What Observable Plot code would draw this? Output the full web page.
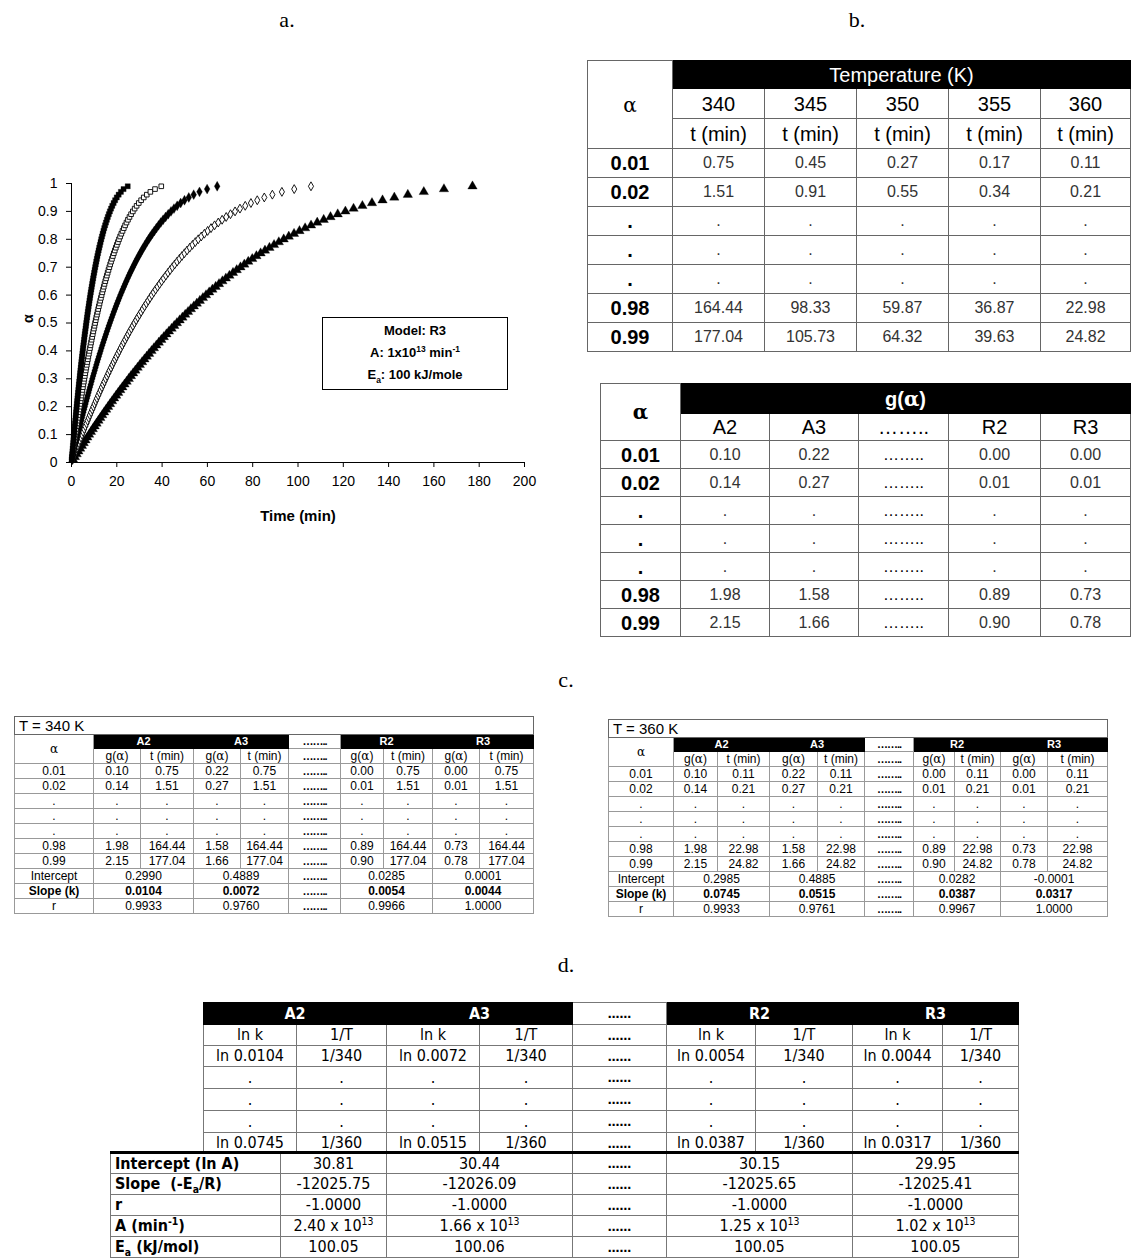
<!DOCTYPE html>
<html><head><meta charset="utf-8">
<script src="https://cdn.jsdelivr.net/npm/d3@7"></script>
<script src="https://cdn.jsdelivr.net/npm/@observablehq/plot@0.6"></script>
<style>
body{margin:0;background:#fff;}
#page{position:relative;width:1133px;height:1260px;overflow:hidden;font-family:"Liberation Sans",Arial,sans-serif;color:#000;}
.lbl{position:absolute;font-family:"Liberation Serif","Times New Roman",serif;font-size:22px;line-height:22px;transform:translateX(-50%);}
table{border-collapse:collapse;table-layout:fixed;position:absolute;}
td{padding:0;text-align:center;border:1px solid #666;overflow:hidden;white-space:nowrap;line-height:1;}
.blk{background:#000;color:#fff;border-color:#000;}
.sym{font-family:"DejaVu Serif","Liberation Serif",serif;}
#b1 td,#b2 td{font-size:20px;}
#b1 td.v,#b2 td.v{font-size:16px;color:#333;}
#b1 td.a,#b2 td.a{font-weight:bold;}
.ct td{font-size:12px;border-color:#999;}
.ct td.title{font-size:15px;text-align:left;padding-left:4px;border-color:#666;}
.ct td.blk{font-weight:bold;border-color:#000;font-size:11px;}
.ct td.dd{font-weight:bold;letter-spacing:-1px;font-size:11px;}
.ct{border:1px solid #555;}
.dt td{font-family:"Liberation Sans Narrow","DejaVu Sans Condensed","Arial Narrow",sans-serif;font-size:16px;border-color:#777;}
.dt td.blk{font-weight:bold;border-color:#000;}
.dt td.lab{text-align:left;padding-left:4px;font-weight:bold;}
.dt td.dd{font-weight:bold;font-size:13px;}
#box{position:absolute;left:322px;top:317px;width:186px;height:73px;border:1px solid #000;font-weight:bold;font-size:13px;text-align:center;line-height:22px;padding-top:2px;box-sizing:border-box;background:#fff;}
sup{font-size:65%;line-height:0;}
sub{font-size:65%;line-height:0;}
</style></head>
<body><div id="page">
<div class="lbl" style="left:287px;top:9px">a.</div>
<div class="lbl" style="left:857px;top:9px">b.</div>
<div class="lbl" style="left:566px;top:669px">c.</div>
<div class="lbl" style="left:566px;top:954px">d.</div>
<div id="chart" style="position:absolute;left:0;top:150px"></div>
<div id="box">Model: R3<br>A: 1x10<sup>13</sup> min<sup>-1</sup><br>E<sub>a</sub>: 100 kJ/mole</div>
<div id="tables"></div>
</div>
<script>
// ---------- chart a data ----------
const alpha = [0.01,0.02,0.03,0.04,0.05,0.06,0.07,0.08,0.09,0.10,
0.11,0.12,0.13,0.14,0.15,0.16,0.17,0.18,0.19,0.20,
0.21,0.22,0.23,0.24,0.25,0.26,0.27,0.28,0.29,0.30,
0.31,0.32,0.33,0.34,0.35,0.36,0.37,0.38,0.39,0.40,
0.41,0.42,0.43,0.44,0.45,0.46,0.47,0.48,0.49,0.50,
0.51,0.52,0.53,0.54,0.55,0.56,0.57,0.58,0.59,0.60,
0.61,0.62,0.63,0.64,0.65,0.66,0.67,0.68,0.69,0.70,
0.71,0.72,0.73,0.74,0.75,0.76,0.77,0.78,0.79,0.80,
0.81,0.82,0.83,0.84,0.85,0.86,0.87,0.88,0.89,0.90,
0.91,0.92,0.93,0.94,0.95,0.96,0.97,0.98,0.99];
const t340 = [0.75,1.51,2.28,3.05,3.83,4.61,5.39,6.19,6.98,7.79,
8.60,9.41,10.24,11.06,11.90,12.74,13.59,14.44,15.31,16.18,
17.05,17.94,18.83,19.73,20.63,21.55,22.47,23.41,24.35,25.30,
26.25,27.22,28.20,29.19,30.18,31.19,32.21,33.24,34.28,35.33,
36.39,37.47,38.56,39.66,40.77,41.90,43.04,44.20,45.37,46.55,
47.76,48.97,50.21,51.46,52.73,54.03,55.34,56.67,58.02,59.39,
60.79,62.21,63.66,65.13,66.63,68.16,69.72,71.31,72.94,74.60,
76.29,78.03,79.81,81.63,83.50,85.42,87.40,89.43,91.53,93.69,
95.93,98.25,100.65,103.15,105.76,108.49,111.35,114.35,117.54,120.92,
124.53,128.43,132.66,137.32,142.53,148.49,155.54,164.44,177.04];
const t345 = [0.45,0.91,1.36,1.82,2.28,2.75,3.22,3.69,4.17,4.65,
5.13,5.62,6.11,6.61,7.11,7.61,8.12,8.63,9.14,9.66,
10.18,10.71,11.24,11.78,12.32,12.87,13.42,13.98,14.54,15.11,
15.68,16.26,16.84,17.43,18.03,18.63,19.24,19.85,20.47,21.10,
21.73,22.38,23.03,23.68,24.35,25.02,25.70,26.39,27.09,27.80,
28.52,29.25,29.99,30.73,31.49,32.26,33.05,33.84,34.65,35.47,
36.30,37.15,38.02,38.90,39.79,40.71,41.64,42.59,43.56,44.55,
45.56,46.60,47.66,48.75,49.87,51.02,52.20,53.41,54.66,55.95,
57.29,58.67,60.11,61.60,63.16,64.79,66.50,68.29,70.19,72.21,
74.37,76.70,79.22,82.01,85.12,88.68,92.89,98.33,105.73];
const t350 = [0.27,0.55,0.83,1.11,1.39,1.67,1.96,2.25,2.54,2.83,
3.12,3.42,3.72,4.02,4.32,4.63,4.94,5.25,5.56,5.88,
6.20,6.52,6.84,7.17,7.50,7.83,8.16,8.50,8.85,9.19,
9.54,9.89,10.25,10.60,10.97,11.33,11.70,12.08,12.45,12.84,
13.22,13.61,14.01,14.41,14.81,15.22,15.64,16.06,16.48,16.91,
17.35,17.79,18.24,18.70,19.16,19.63,20.10,20.59,21.08,21.58,
22.09,22.60,23.13,23.66,24.21,24.76,25.33,25.91,26.50,27.10,
27.72,28.35,29.00,29.66,30.34,31.03,31.75,32.49,33.25,34.04,
34.85,35.69,36.57,37.48,38.42,39.41,40.45,41.55,42.70,43.93,
45.24,46.66,48.20,49.89,51.78,53.95,56.51,59.87,64.32];
const t355 = [0.17,0.34,0.51,0.68,0.86,1.03,1.21,1.38,1.56,1.74,
1.92,2.11,2.29,2.48,2.66,2.85,3.04,3.23,3.43,3.62,
3.82,4.01,4.21,4.42,4.62,4.82,5.03,5.24,5.45,5.66,
5.88,6.09,6.31,6.53,6.76,6.98,7.21,7.44,7.67,7.91,
8.15,8.39,8.63,8.88,9.13,9.38,9.63,9.89,10.16,10.42,
10.69,10.96,11.24,11.52,11.80,12.09,12.39,12.68,12.99,13.29,
13.61,13.93,14.25,14.58,14.92,15.26,15.61,15.96,16.33,16.70,
17.08,17.47,17.87,18.27,18.69,19.12,19.56,20.02,20.49,20.97,
21.47,21.99,22.53,23.09,23.67,24.28,24.92,25.60,26.31,27.07,
27.88,28.75,29.70,30.74,31.90,33.24,34.82,36.87,39.63];
const t360 = [0.11,0.21,0.32,0.43,0.54,0.65,0.76,0.87,0.98,1.09,
1.21,1.32,1.43,1.55,1.67,1.79,1.91,2.02,2.15,2.27,
2.39,2.51,2.64,2.77,2.89,3.02,3.15,3.28,3.41,3.55,
3.68,3.82,3.95,4.09,4.23,4.37,4.52,4.66,4.81,4.95,
5.10,5.25,5.41,5.56,5.72,5.87,6.03,6.20,6.36,6.53,
6.69,6.87,7.04,7.21,7.39,7.57,7.76,7.94,8.13,8.33,
8.52,8.72,8.92,9.13,9.34,9.56,9.77,10.00,10.22,10.46,
10.70,10.94,11.19,11.44,11.71,11.98,12.25,12.54,12.83,13.13,
13.45,13.77,14.11,14.46,14.83,15.21,15.61,16.03,16.48,16.95,
17.46,18.00,18.60,19.25,19.98,20.82,21.81,22.98,24.82];
const xTicks = [0,20,40,60,80,100,120,140,160,180,200];
const yTicks = [0,0.1,0.2,0.3,0.4,0.5,0.6,0.7,0.8,0.9,1];

// ---------- table data ----------
const temps = [340,345,350,355,360];
const alphaLabels = ["0.01","0.02",".",".",".","0.98","0.99"];
const timesByAlpha = [
  [0.75,0.45,0.27,0.17,0.11],
  [1.51,0.91,0.55,0.34,0.21],
  null,null,null,
  [164.44,98.33,59.87,36.87,22.98],
  [177.04,105.73,64.32,39.63,24.82]];
const models = ["A2","A3","R2","R3"];
const gByAlpha = [
  [0.10,0.22,0.00,0.00],
  [0.14,0.27,0.01,0.01],
  null,null,null,
  [1.98,1.58,0.89,0.73],
  [2.15,1.66,0.90,0.78]];
const intercept340 = [0.2990,0.4889,0.0285,0.0001];
const slope340 = [0.0104,0.0072,0.0054,0.0044];
const r340 = [0.9933,0.9760,0.9966,1.0000];
const intercept360 = [0.2985,0.4885,0.0282,-0.0001];
const slope360 = [0.0745,0.0515,0.0387,0.0317];
const r360 = [0.9933,0.9761,0.9967,1.0000];
const arrIntercept = ["30.81","30.44","30.15","29.95"];
const arrSlope = ["-12025.75","-12026.09","-12025.65","-12025.41"];
const arrR = ["-1.0000","-1.0000","-1.0000","-1.0000"];
const arrA = ["2.40","1.66","1.25","1.02"];
const arrEa = ["100.05","100.06","100.05","100.05"];

// ---------- chart ----------
const seriesList = [
  {T:"340", t:t340}, {T:"345", t:t345}, {T:"350", t:t350}, {T:"355", t:t355}, {T:"360", t:t360}];
const rows = seriesList.flatMap(s => s.t.map((t,i) => ({T:s.T, t, a:alpha[i]})));
const look = {
  "340":{symbol:"triangle", fill:"black", r:3.5},
  "345":{symbol:"diamond", fill:"white", r:2.7},
  "350":{symbol:"diamond", fill:"black", r:3.0},
  "355":{symbol:"square", fill:"white", r:2.6},
  "360":{symbol:"square", fill:"black", r:2.9}};
const chart = Plot.plot({
  width:560, height:400,
  marginLeft:71, marginRight:36, marginTop:33, marginBottom:88,
  style:{fontFamily:"'Liberation Sans', Arial, sans-serif", fontSize:"14px", color:"black", background:"transparent", overflow:"visible"},
  x:{domain:[0,200]},
  y:{domain:[0,1]},
  marks:[
    Plot.axisX(xTicks,{tickSize:5, tickPadding:9, fontSize:14, label:null, tickFormat:d=>String(d)}),
    Plot.axisY(yTicks,{tickSize:5, tickPadding:9, fontSize:14, label:null, tickFormat:d=>d3.format(".1~f")(d)}),
    Plot.ruleX([0],{stroke:"black"}),
    Plot.ruleY([0],{stroke:"black"}),
    ...seriesList.map(s => Plot.dot(rows.filter(d => d.T === s.T), {
      x:"t", y:"a", symbol:look[s.T].symbol, r:look[s.T].r,
      fill:look[s.T].fill, stroke:"black", strokeWidth:look[s.T].fill === "white" ? 0.9 : 0.3})),
    Plot.text(["Time (min)"], {frameAnchor:"bottom", dy:58, fontWeight:"bold", fontSize:15}),
    Plot.text(["α"], {frameAnchor:"left", dx:-43, rotate:-90, fontWeight:"bold", fontSize:14})
  ]
});
document.getElementById("chart").appendChild(chart);

// ---------- tables ----------
const f2 = v => v.toFixed(2);
const f4 = v => v.toFixed(4);
const cols = ws => "<colgroup>" + ws.map(w => `<col style="width:${w}px">`).join("") + "</colgroup>";
let html = "";

// b1
{
  let h = `<table id="b1" style="left:587px;top:60px;width:543px;border:1px solid #444">` + cols([85,92,92,92,92,90]);
  h += `<tr style="height:28px"><td rowspan="3" class="sym" style="font-size:20px">α</td><td colspan="5" class="blk">Temperature (K)</td></tr>`;
  h += `<tr style="height:30px">` + temps.map(t => `<td>${t}</td>`).join("") + `</tr>`;
  h += `<tr style="height:30px">` + temps.map(() => `<td>t (min)</td>`).join("") + `</tr>`;
  alphaLabels.forEach((a,i) => {
    const v = timesByAlpha[i];
    h += `<tr style="height:29px"><td class="a">${a}</td>` + temps.map((_,j) => `<td class="v">${v ? f2(v[j]) : "."}</td>`).join("") + `</tr>`;
  });
  html += h + "</table>";
}
// b2
{
  let h = `<table id="b2" style="left:600px;top:383px;width:530px;border:1px solid #444">` + cols([80,89,89,90,92,90]);
  h += `<tr style="height:30px"><td rowspan="2" class="sym" style="font-weight:bold;font-size:20px">α</td><td colspan="5" class="blk" style="font-weight:bold">g(<span class="sym">α</span>)</td></tr>`;
  const hdr = ["A2","A3","……..","R2","R3"];
  h += `<tr style="height:27px">` + hdr.map(m => `<td>${m}</td>`).join("") + `</tr>`;
  alphaLabels.forEach((a,i) => {
    const v = gByAlpha[i];
    const cells = [0,1,null,2,3].map(j => j === null ? `<td style="font-size:16px">……..</td>` : `<td class="v">${v ? f2(v[j]) : "."}</td>`);
    h += `<tr style="height:28px"><td class="a">${a}</td>` + cells.join("") + `</tr>`;
  });
  html += h + "</table>";
}
// c tables
function cTable(T, tcol, inter, slope, rr, left, top, widths, width) {
  const dd = `<td class="dd">……..</td>`;
  let h = `<table class="ct" style="left:${left}px;top:${top}px;width:${width}px">` + cols(widths);
  h += `<tr style="height:18px"><td colspan="10" class="title">T = ${T} K</td></tr>`;
  h += `<tr style="height:14px"><td rowspan="2" class="sym">α</td><td colspan="2" class="blk">A2</td><td colspan="2" class="blk">A3</td>${dd}<td colspan="2" class="blk">R2</td><td colspan="2" class="blk">R3</td></tr>`;
  const sub = `<td>g(<span class="sym">α</span>)</td><td>t (min)</td>`;
  h += `<tr style="height:15px">${sub}${sub}${dd}${sub}${sub}</tr>`;
  alphaLabels.forEach((a,i) => {
    const g = gByAlpha[i];
    const pair = j => `<td>${g ? f2(g[j]) : "."}</td><td>${g ? f2(tcol[i]) : "."}</td>`;
    h += `<tr style="height:15px"><td>${a}</td>${pair(0)}${pair(1)}${dd}${pair(2)}${pair(3)}</tr>`;
  });
  const sumRow = (lab, vals, bold) => {
    const st = bold ? ` style="font-weight:bold"` : "";
    const c = j => `<td colspan="2"${st}>${f4(vals[j])}</td>`;
    return `<tr style="height:15px"><td${st}>${lab}</td>${c(0)}${c(1)}${dd}${c(2)}${c(3)}</tr>`;
  };
  h += sumRow("Intercept", inter, false) + sumRow("Slope (k)", slope, true) + sumRow("r", rr, false);
  return h + "</table>";
}
const col340 = timesByAlpha.map(v => v ? v[0] : null);
const col360 = timesByAlpha.map(v => v ? v[4] : null);
html += cTable(340, col340, intercept340, slope340, r340, 14, 716, [79,47,53,47,48,52,43,49,47,54], 519);
html += cTable(360, col360, intercept360, slope360, r360, 608, 719, [65,44,52,48,47,49,41,46,47,60], 499);

// d table
{
  const dd = `<td class="dd">……</td>`;
  let h = `<table class="dt" style="left:203px;top:1002px;width:815px;border-right:1px solid #555;border-left:1px solid #555">` + cols([93,90,93,93,94,89,97,90,76]);
  h += `<tr style="height:22px"><td colspan="2" class="blk">A2</td><td colspan="2" class="blk">A3</td>${dd}<td colspan="2" class="blk">R2</td><td colspan="2" class="blk">R3</td></tr>`;
  const sub = `<td>ln k</td><td>1/T</td>`;
  h += `<tr style="height:21px">${sub}${sub}${dd}${sub}${sub}</tr>`;
  const lnRow = (sl, T) => {
    const p = j => `<td>ln ${f4(sl[j])}</td><td>1/${T}</td>`;
    return `<tr style="height:21px">${p(0)}${p(1)}${dd}${p(2)}${p(3)}</tr>`;
  };
  const dotRow = `<tr style="height:22px"><td>.</td><td>.</td><td>.</td><td>.</td>${dd}<td>.</td><td>.</td><td>.</td><td>.</td></tr>`;
  h += lnRow(slope340, 340) + dotRow + dotRow + dotRow + lnRow(slope360, 360);
  html += h + "</table>";

  let b = `<table class="dt" style="left:110px;top:1151px;width:908px;border-top:3px solid #000;border-left:1px solid #555;border-right:1px solid #555">` + cols([170,106,186,94,186,166]);
  const brow = (lab, vals) => `<tr style="height:21px"><td class="lab">${lab}</td><td>${vals[0]}</td><td>${vals[1]}</td>${dd}<td>${vals[2]}</td><td>${vals[3]}</td></tr>`;
  b += brow("Intercept (ln A)", arrIntercept);
  b += brow("Slope &nbsp;(-E<sub>a</sub>/R)", arrSlope);
  b += brow("r", arrR);
  b += brow("A (min<sup>-1</sup>)", arrA.map(v => `${v} x 10<sup>13</sup>`));
  b += brow("E<sub>a</sub> (kJ/mol)", arrEa);
  html += b + "</table>";
}
document.getElementById("tables").innerHTML = html;
</script>
</body></html>
